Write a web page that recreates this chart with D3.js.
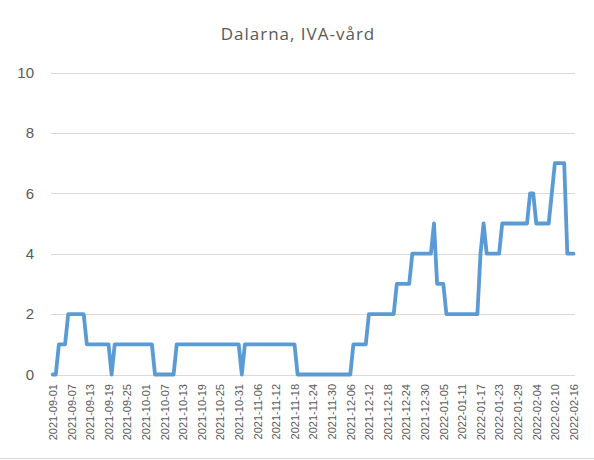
<!DOCTYPE html>
<html><head><meta charset="utf-8">
<script src="https://cdn.jsdelivr.net/npm/d3@7"></script>
<style>body{margin:0;background:#fff}svg{display:block}</style>
</head><body>
<script>
const title = "Dalarna, IVA-vård";
const startDate = "2021-09-01";
const values = [
 0,0,1,1,1,2,2,2,2,2,2,1,1,1,1,1,1,1,1,0,
 1,1,1,1,1,1,1,1,1,1,1,1,1,0,0,0,0,0,0,0,
 1,1,1,1,1,1,1,1,1,1,1,1,1,1,1,1,1,1,1,1,
 1,0,1,1,1,1,1,1,1,1,1,1,1,1,1,1,1,1,1,0,
 0,0,0,0,0,0,0,0,0,0,0,0,0,0,0,0,0,1,1,1,
 1,1,2,2,2,2,2,2,2,2,2,3,3,3,3,3,4,4,4,4,
 4,4,4,5,3,3,3,2,2,2,2,2,2,2,2,2,2,2,4,5,
 4,4,4,4,4,5,5,5,5,5,5,5,5,5,6,6,5,5,5,5,
 5,6,7,7,7,7,4,4,4
];
const yTicks = [0,2,4,6,8,10];
const tickLabels = ["2021-09-01","2021-09-07","2021-09-13","2021-09-19","2021-09-25","2021-10-01","2021-10-07","2021-10-13","2021-10-19","2021-10-25","2021-10-31","2021-11-06","2021-11-12","2021-11-18","2021-11-24","2021-11-30","2021-12-06","2021-12-12","2021-12-18","2021-12-24","2021-12-30","2022-01-05","2022-01-11","2022-01-17","2022-01-23","2022-01-29","2022-02-04","2022-02-10","2022-02-16"];

(function(){
const W = 594, H = 460;
const fmt = d3.timeFormat("%Y-%m-%d");
const parse = d3.timeParse("%Y-%m-%d");
const start = parse(startDate);
const categories = values.map((v,i)=>fmt(d3.timeDay.offset(start,i)));

const svg = d3.select("body").append("svg").attr("width",W).attr("height",H);
const pL = 51, pR = 575, pT = 72.5, pB = 374.5;
const x = d3.scalePoint().domain(categories).range([pL+1.7, pR-1.5]);
const y = d3.scaleLinear().domain([0,10]).range([pB, pT]);

svg.append("g").selectAll("line").data(yTicks).join("line")
  .attr("x1",pL).attr("x2",pR)
  .attr("y1",d=>Math.round(y(d))+0.5).attr("y2",d=>Math.round(y(d))+0.5)
  .attr("stroke","#d9d9d9").attr("stroke-width",1);

svg.append("g").selectAll("text").data(yTicks).join("text")
  .attr("x",34).attr("y",d=>y(d)).attr("dy","0.35em")
  .attr("text-anchor","end")
  .attr("font-family","'Liberation Sans', Arial, sans-serif")
  .attr("font-size","15px").attr("fill","#595959")
  .text(d=>d);

svg.append("g").selectAll("text").data(tickLabels).join("text")
  .attr("transform",d=>`translate(${x(d)+0.5},384) rotate(-90)`)
  .attr("text-anchor","end").attr("dy","0.35em")
  .attr("font-family","'Liberation Sans', Arial, sans-serif")
  .attr("font-size","11px").attr("fill","#595959")
  .text(d=>d);

const line = d3.line().x((d,i)=>x(categories[i])).y(d=>y(d));
svg.append("path").datum(values)
  .attr("d",line).attr("fill","none")
  .attr("stroke","#5b9bd5").attr("stroke-width",3.8)
  .attr("stroke-linejoin","round").attr("stroke-linecap","round");

svg.append("text").attr("x",298).attr("y",40)
  .attr("text-anchor","middle")
  .attr("font-family","'Open Sans', 'Liberation Sans', sans-serif")
  .attr("font-size","17px").attr("fill","#595959")
  .attr("letter-spacing","1px")
  .text(title);

svg.append("line").attr("x1",0).attr("x2",W).attr("y1",458.5).attr("y2",458.5)
  .attr("stroke","#d9d9d9").attr("stroke-width",1);
})();
</script>
</body></html>
